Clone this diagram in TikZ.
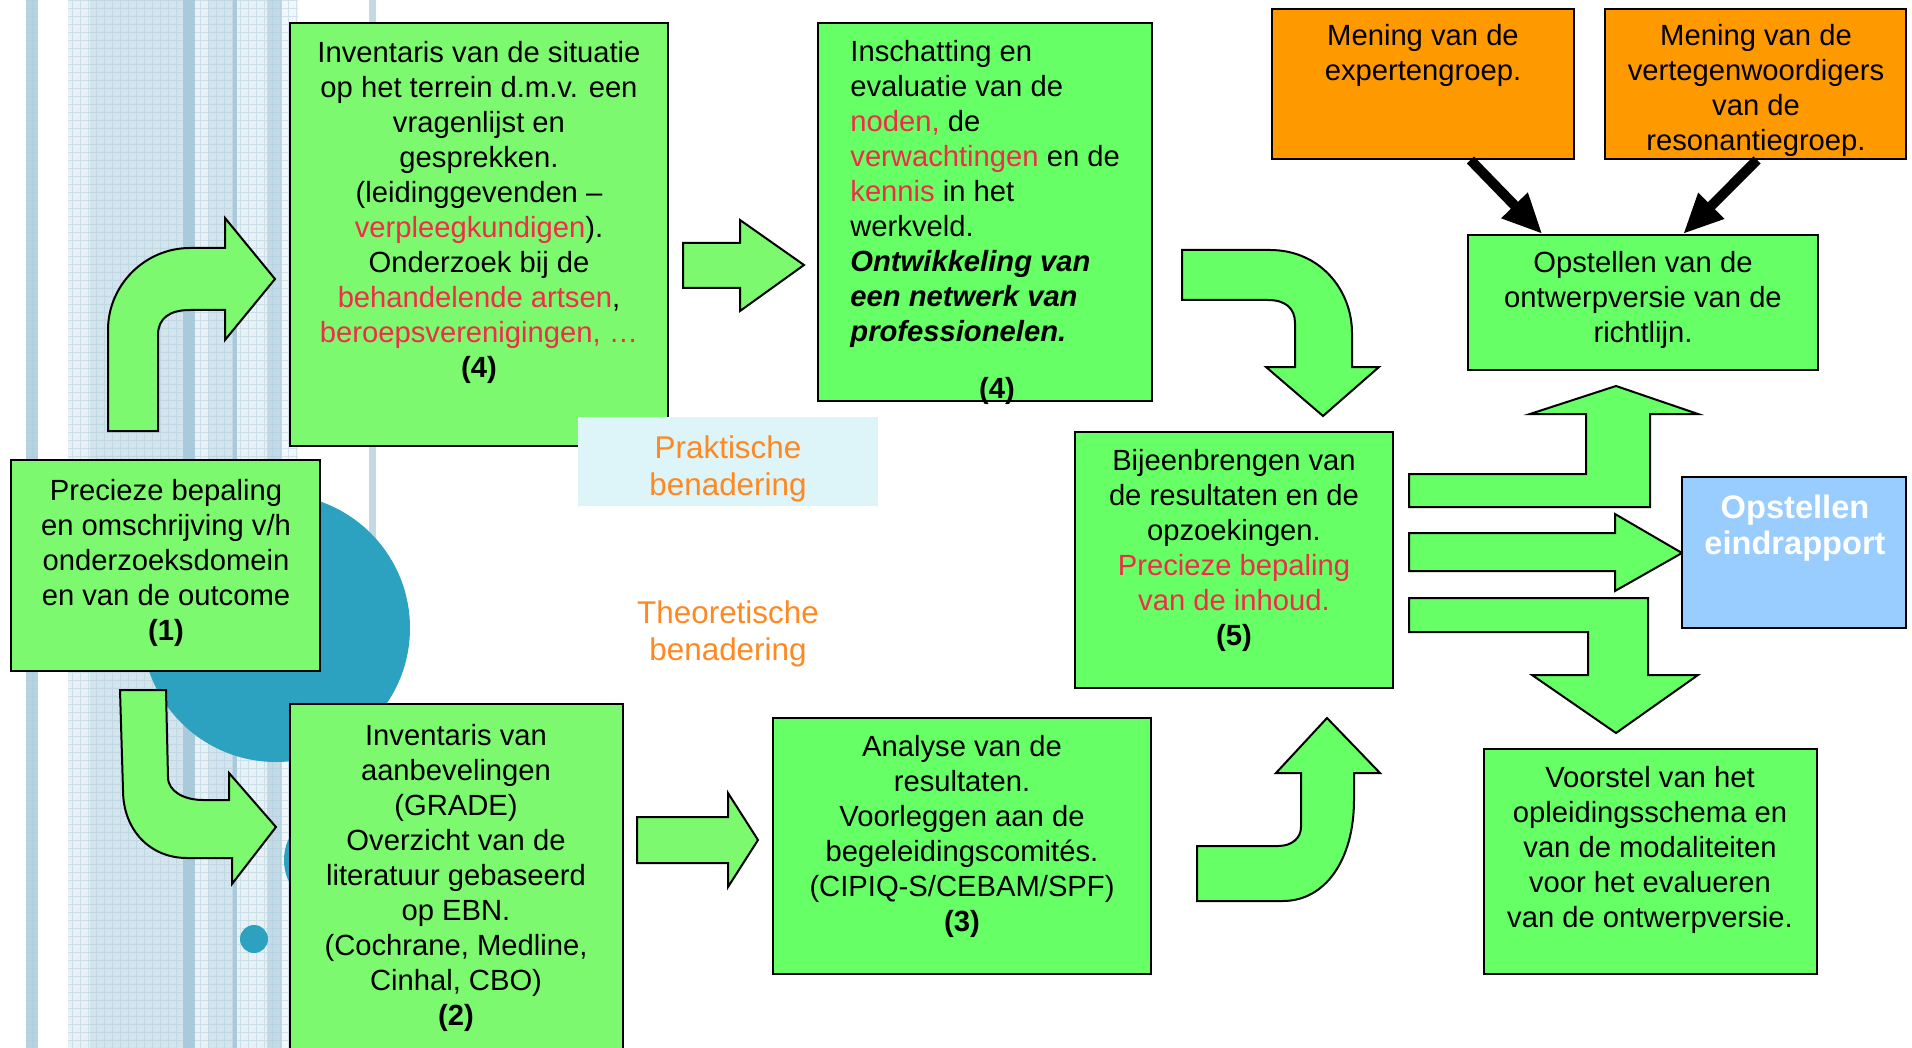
\documentclass[tikz,border=0pt]{standalone}
\usepackage{fontspec}
\setmainfont{Liberation Sans}
\usetikzlibrary{fit,calc,arrows.meta}
\definecolor{lgr}{RGB}{124,249,110}
\definecolor{bgr}{RGB}{102,255,102}
\definecolor{org}{RGB}{255,153,0}
\definecolor{sky}{RGB}{153,204,255}
\definecolor{pal}{RGB}{221,244,248}
\definecolor{ttl}{RGB}{255,136,32}
\definecolor{hil}{RGB}{240,45,70}
\definecolor{tea}{RGB}{44,162,192}
\definecolor{st1}{RGB}{184,211,224}
\definecolor{st2}{RGB}{211,228,236}
\definecolor{st3}{RGB}{169,202,219}
\definecolor{st4}{RGB}{232,241,246}
\definecolor{st5}{RGB}{195,218,230}
\tikzset{
  boxl/.style={draw=black, line width=1pt, fill=lgr, inner sep=0pt},
  boxr/.style={draw=black, line width=1pt, fill=bgr, inner sep=0pt},
  boxo/.style={draw=black, line width=1pt, fill=org, inner sep=0pt},
  txt/.style={font=\fontsize{14.6}{17.5}\selectfont, align=center, inner sep=0pt, anchor=north},
  apptxt/.style={txt, font=\fontsize{15.7}{18.5}\selectfont, text=ttl},
  bigarr/.style={draw=black, line width=1pt, line join=miter},
  opin/.style={line width=5pt, -{Triangle[length=20pt,width=17pt]}},
}
\newcommand{\hl}[1]{\textcolor{hil}{#1}}
\newcommand{\bi}[1]{\textbf{\textit{#1}}}

\begin{document}
\begin{tikzpicture}[x=0.5pt,y=-0.5pt]
  \useasboundingbox (0,0) rectangle (1912,1048);
  \clip (0,0) rectangle (1912,1048);
  % background stripes
  \fill[st1] (26,0) rectangle (38,1048);
  \fill[st4] (68,0) rectangle (90,1048);
  \fill[st2] (90,0) rectangle (183,1048);
  \fill[st3] (183,0) rectangle (195,1048);
  \fill[st4] (195,0) rectangle (208,1048);
  \fill[st2] (208,0) rectangle (233,1048);
  \fill[st3] (233,0) rectangle (237,1048);
  \fill[st4] (237,0) rectangle (267,1048);
  \fill[st5] (267,0) rectangle (282,1048);
  \fill[st4!60!white] (282,0) rectangle (298,1048);
  \fill[st5] (369,0) rectangle (376,1048);
  \draw[st3, opacity=0.45, line width=0.25pt, step=4pt] (68,1048) grid (298,0);
  \draw[st3, opacity=0.45, line width=0.25pt, step=4pt] (26,1048) grid (38,0);
  % circles
  \fill[tea] (276,628) circle (67pt);
  \fill[tea] (334,860) circle (25pt);
  \fill[tea] (254,939) circle (7pt);

  % left arrows
  \draw[bigarr, fill=lgr] (108,431) -- (108,330) .. controls (108,285) and (145,248) .. (190,248)
    -- (225,248) -- (225,218) -- (275,279) -- (225,340) -- (225,310) -- (190,310)
    .. controls (170,310) and (158,318) .. (158,335) -- (158,431) -- cycle;
  \draw[bigarr, fill=lgr] (120,690) -- (166,690) -- (168,777) .. controls (168,792) and (185,800) .. (203,800)
    -- (229,800) -- (229,773) -- (276,827) -- (232,884) -- (232,858) -- (187,858)
    .. controls (150,858) and (123,830) .. (123,790) -- cycle;
  \draw[bigarr, fill=lgr] (683,243) -- (740,243) -- (740,220) -- (804,265) -- (740,311) -- (740,288) -- (683,288) -- cycle;
  \draw[bigarr, fill=lgr] (637,817) -- (728,817) -- (728,793) -- (758,840) -- (728,887) -- (728,863) -- (637,863) -- cycle;

  % right arrows
  \draw[bigarr, fill=bgr] (1182,250) -- (1270,250) .. controls (1320,250) and (1352,290) .. (1352,333)
    -- (1352,367) -- (1379,367) -- (1323,416) -- (1266,367) -- (1295,367) -- (1295,323)
    .. controls (1295,308) and (1285,300) .. (1268,300) -- (1182,300) -- cycle;
  \draw[bigarr, fill=bgr] (1197,901) -- (1283,901) .. controls (1325,901) and (1354,860) .. (1354,800)
    -- (1354,773) -- (1380,773) -- (1327,718) -- (1276,773) -- (1301,773) -- (1301,827)
    .. controls (1301,838) and (1292,846) .. (1278,846) -- (1197,846) -- cycle;
  \draw[bigarr, fill=bgr] (1409,474) -- (1586,474) -- (1586,414) -- (1530,414) -- (1616,386)
    -- (1698,414) -- (1650,414) -- (1650,507) -- (1409,507) -- cycle;
  \draw[bigarr, fill=bgr] (1409,533) -- (1615,533) -- (1615,514) -- (1682,553) -- (1615,591)
    -- (1615,571) -- (1409,571) -- cycle;
  \draw[bigarr, fill=bgr] (1409,598) -- (1648,598) -- (1648,675) -- (1698,675) -- (1616,733)
    -- (1532,675) -- (1588,675) -- (1588,632) -- (1409,632) -- cycle;

  % boxes
  \node[boxl, fit={(290,23) (668,446)}] (inv) {};
  \node[txt] (invtext) at (479,41) {Inventaris van de situatie\\op het terrein d.m.v. een\\vragenlijst en\\gesprekken.\\(leidinggevenden –\\\hl{verpleegkundigen}).\\Onderzoek bij de\\\hl{behandelende artsen},\\\hl{beroepsverenigingen, …}\\\textbf{(4)}};

  \node[fill=pal, inner sep=0pt, fit={(578,417) (878,506)}] (prak) {};
  \node[apptxt] (praktext) at (728,435) {Praktische\\benadering};
  \node[apptxt] (theo) at (728,600) {Theoretische\\benadering};

  \node[boxr, fit={(818,23) (1152,401)}] (schat) {};
  \node[txt, anchor=north west, align=left] (schattext) at (850,40) {Inschatting en\\evaluatie van de\\\hl{noden,} de\\\hl{verwachtingen} en de\\\hl{kennis} in het\\werkveld.\\\bi{Ontwikkeling van}\\\bi{een netwerk van}\\\bi{professionelen.}};
  \node[txt, anchor=base, font=\fontsize{14.6}{17.5}\selectfont\bfseries] (schatnum) at (997,398) {(4)};

  \node[boxl, fit={(11,460) (320,671)}] (prec) {};
  \node[txt] (prectext) at (166,479) {Precieze bepaling\\en omschrijving v/h\\onderzoeksdomein\\en van de outcome\\\textbf{(1)}};

  \node[boxl, fit={(290,704) (623,1070)}] (aanb) {};
  \node[txt] (aanbtext) at (456,724) {Inventaris van\\aanbevelingen\\(GRADE)\\Overzicht van de\\literatuur gebaseerd\\op EBN.\\(Cochrane, Medline,\\Cinhal, CBO)\\\textbf{(2)}};

  \node[boxr, fit={(773,718) (1151,974)}] (anal) {};
  \node[txt] (analtext) at (962,735) {Analyse van de\\resultaten.\\Voorleggen aan de\\begeleidingscomités.\\(CIPIQ-S/CEBAM/SPF)\\\textbf{(3)}};

  \node[boxr, fit={(1075,432) (1393,688)}] (bij) {};
  \node[txt] (bijtext) at (1234,449) {Bijeenbrengen van\\de resultaten en de\\opzoekingen.\\\hl{Precieze bepaling}\\\hl{van de inhoud.}\\\textbf{(5)}};

  \node[boxo, fit={(1272,9) (1574,159)}] (men1) {};
  \node[txt] (men1text) at (1423,24) {Mening van de\\expertengroep.};
  \node[boxo, fit={(1605,9) (1906,159)}] (men2) {};
  \node[txt] (men2text) at (1756,24) {Mening van de\\vertegenwoordigers\\van de\\resonantiegroep.};

  \node[boxr, fit={(1468,235) (1818,370)}] (ontw) {};
  \node[txt] (ontwtext) at (1643,251) {Opstellen van de\\ontwerpversie van de\\richtlijn.};

  \node[draw=black, line width=1pt, fill=sky, inner sep=0pt, fit={(1682,477) (1906,628)}] (eind) {};
  \node[txt, font=\fontsize{16.3}{18}\selectfont\bfseries, text=white] (eindtext) at (1795,494) {Opstellen\\eindrapport};

  \node[boxr, fit={(1484,749) (1817,974)}] (voor) {};
  \node[txt] (voortext) at (1650,766) {Voorstel van het\\opleidingsschema en\\van de modaliteiten\\voor het evalueren\\van de ontwerpversie.};

  % opinions
  \draw[opin] ($(men1.south west)!0.656!(men1.south east)$) -- ($(ontw.north west)!0.214!(ontw.north east)$);
  \draw[opin] ($(men2.south west)!0.505!(men2.south east)$) -- ($(ontw.north west)!0.614!(ontw.north east)$);
\end{tikzpicture}
\end{document}
